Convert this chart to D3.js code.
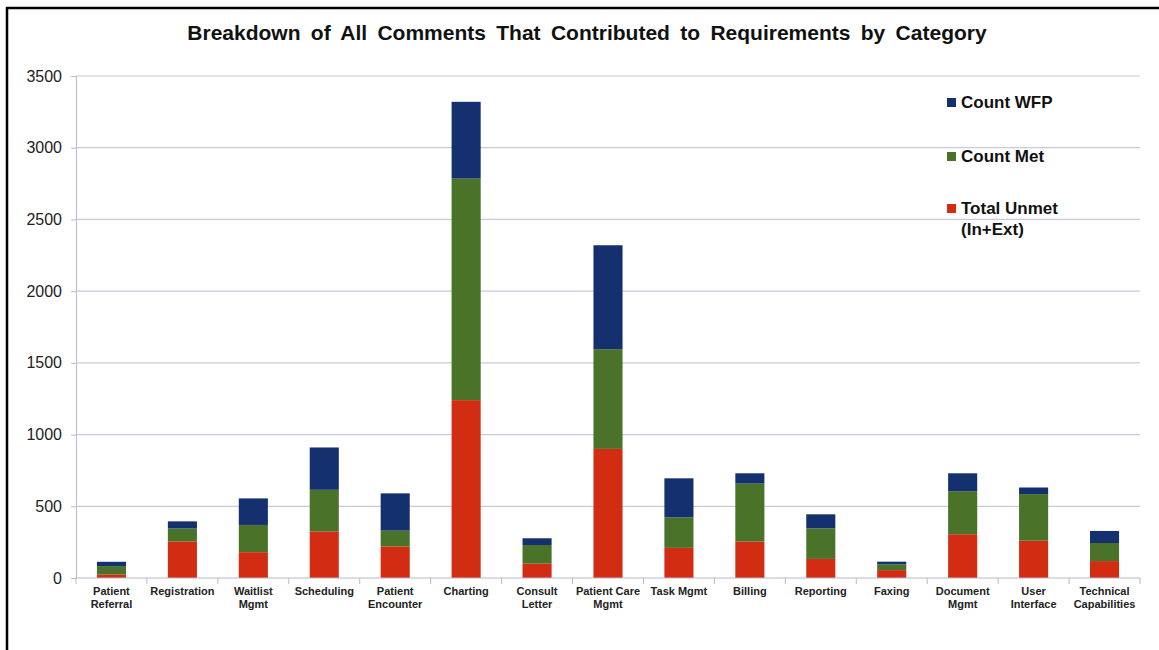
<!DOCTYPE html>
<html><head><meta charset="utf-8">
<script src="https://cdn.jsdelivr.net/npm/d3@7/dist/d3.min.js"></script>
<style>body{margin:0;background:#fff}svg{display:block;font-family:"Liberation Sans",Arial,sans-serif}</style>
</head><body><svg id="c" width="1159" height="650"></svg>
<script>
const categories = ["Patient\nReferral","Registration","Waitlist\nMgmt","Scheduling","Patient\nEncounter","Charting","Consult\nLetter","Patient Care\nMgmt","Task Mgmt","Billing","Reporting","Faxing","Document\nMgmt","User\nInterface","Technical\nCapabilities"];
const totalUnmet = [25, 255, 180, 325, 220, 1240, 100, 900, 210, 255, 133, 55, 305, 260, 118];
const countMet   = [58, 90, 190, 290, 110, 1545, 130, 695, 213, 403, 213, 40, 300, 325, 126];
const countWFP   = [30, 50, 185, 295, 260, 535, 47, 725, 272, 72, 98, 19, 125, 46, 84];
const yTicks = [0,500,1000,1500,2000,2500,3000,3500];
const seriesNames = ["Total Unmet", "Count Met", "Count WFP"];
const colors = {"Total Unmet":"#d22d12","Count Met":"#4a7229","Count WFP":"#15306f"};

const svg = d3.select("#c");
// frame
svg.append("line").attr("x1",7).attr("x2",7).attr("y1",7).attr("y2",650).attr("stroke","#000").attr("stroke-width",2.5);
svg.append("line").attr("x1",6).attr("x2",1159).attr("y1",8).attr("y2",8).attr("stroke","#000").attr("stroke-width",2.5);

const x = d3.scaleBand().domain(categories).range([76,1140]).paddingInner(0.59).paddingOuter(0.295);
const y = d3.scaleLinear().domain([0,3500]).range([578,76]);

// gridlines
svg.append("g").selectAll("line").data(yTicks.filter(d=>d>0)).join("line")
  .attr("x1",76).attr("x2",1140).attr("y1",d=>y(d)).attr("y2",d=>y(d))
  .attr("stroke","#c9c9dc").attr("stroke-width",1.2);

// y axis
const yAxis = svg.append("g").attr("transform","translate(76,0)")
  .call(d3.axisLeft(y).tickValues(yTicks).tickSize(5).tickPadding(9).tickFormat(d3.format("d")));
yAxis.select(".domain").attr("stroke","#c0c0d4").attr("stroke-width",1.2);
yAxis.selectAll(".tick line").attr("stroke","#b8b8c8");
yAxis.selectAll("text").attr("font-size",16).attr("fill","#222").attr("font-family","Liberation Sans, Arial, sans-serif");

// stacked bars
const rows = categories.map((c,i)=>({cat:c,"Total Unmet":totalUnmet[i],"Count Met":countMet[i],"Count WFP":countWFP[i]}));
const stacked = d3.stack().keys(seriesNames)(rows);
svg.append("g").selectAll("g").data(stacked).join("g").attr("fill",d=>colors[d.key])
  .selectAll("rect").data(d=>d).join("rect")
  .attr("x",d=>x(d.data.cat)).attr("width",x.bandwidth())
  .attr("y",d=>y(d[1])).attr("height",d=>y(d[0])-y(d[1]));

// x axis
svg.append("line").attr("x1",76).attr("x2",1140).attr("y1",578).attr("y2",578).attr("stroke","#b8b8c8").attr("stroke-width",1.2);
const step = x.step();
const bounds = categories.map(c=>x(c)-step*x.paddingInner()/2).concat([1140]);
svg.append("g").selectAll("line").data(bounds).join("line")
  .attr("x1",d=>d).attr("x2",d=>d).attr("y1",578).attr("y2",584).attr("stroke","#b8b8c8");
const lbl = svg.append("g").selectAll("text").data(categories).join("text")
  .attr("x",d=>x(d)+x.bandwidth()/2).attr("y",595).attr("text-anchor","middle")
  .attr("font-size",11).attr("font-weight","bold").attr("fill","#222");
lbl.each(function(d){
  const t=d3.select(this);
  d.split("\n").forEach((s,i)=>t.append("tspan").attr("x",x(d)+x.bandwidth()/2).attr("dy",i?13:0).text(s));
});

// title
svg.append("text").attr("x",587).attr("y",40).attr("text-anchor","middle")
  .attr("font-size",21).attr("font-weight","bold").attr("fill","#111").attr("word-spacing",4.5)
  .text("Breakdown of All Comments That Contributed to Requirements by Category");

// legend
const legend = [
  {key:"Count WFP", lines:["Count WFP"], y:102},
  {key:"Count Met", lines:["Count Met"], y:156},
  {key:"Total Unmet", lines:["Total Unmet","(In+Ext)"], y:208}
];
const lg = svg.append("g").selectAll("g").data(legend).join("g");
lg.append("rect").attr("x",947).attr("y",d=>d.y-4).attr("width",9).attr("height",9).attr("fill",d=>colors[d.key]);
lg.append("text").attr("x",961).attr("y",d=>d.y+6).attr("font-size",17).attr("font-weight","bold").attr("fill","#111")
  .each(function(d){const t=d3.select(this);d.lines.forEach((s,i)=>t.append("tspan").attr("x",961).attr("dy",i?21:0).text(s));});
</script></body></html>
